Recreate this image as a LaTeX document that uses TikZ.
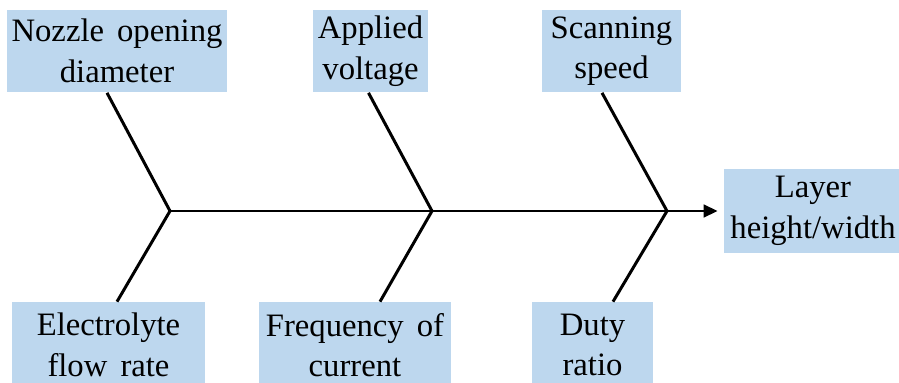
\documentclass[tikz,border=0pt]{standalone}
\usepackage{fontspec}
\setmainfont{Liberation Serif}
\usetikzlibrary{calc,arrows.meta}
\definecolor{boxblue}{HTML}{BDD7EE}
\begin{document}
\begin{tikzpicture}[x=0.02cm,y=-0.02cm]
  \useasboundingbox (0,0) rectangle (899,382);
  \begin{scope}[every node/.style={fill=boxblue,align=center,inner sep=0pt,minimum height=1.66cm,font=\fontsize{18.6}{23}\selectfont}]
  \node[minimum width=4.4cm] (nozzle) at (117,51) {Nozzle\hspace{0.4em}opening\\diameter};
  \node[minimum width=2.3cm] (voltage) at (370.5,51) {Applied\\voltage};
  \node[minimum width=2.78cm] (speed) at (611.5,51) {Scanning\\speed};
  \node[minimum width=3.56cm,minimum height=1.7cm] (layer) at (813,211) {Layer\\height/width};
  \node[minimum width=3.86cm,minimum height=1.72cm] (flow) at (108.5,345) {Electrolyte\\flow\hspace{0.4em}rate};
  \node[minimum width=3.84cm,minimum height=1.72cm] (freq) at (355,345) {Frequency\hspace{0.4em}of\\current};
  \node[minimum width=2.42cm,minimum height=1.72cm] (duty) at (592.5,345) {Duty\\ratio};
  \end{scope}
  \coordinate (j1) at (170,211);
  \coordinate (j2) at (432,211);
  \coordinate (j3) at (667,211);
  \begin{scope}[every edge/.style={draw=black,line width=1.7pt}]
  \path (j1) edge[-{Triangle[length=0.28cm,width=0.25cm]},shorten >=0.12cm] (layer.west);
  \path (j1) edge ($(nozzle.south)+(-10,0)$);
  \path (j2) edge ($(voltage.south)+(-2,0)$);
  \path (j3) edge ($(speed.south)+(-9.5,0)$);
  \path (j1) edge ($(flow.north)+(8.5,0)$);
  \path (j2) edge ($(freq.north)+(25,0)$);
  \path (j3) edge ($(duty.north)+(20.5,0)$);
  \end{scope}
\end{tikzpicture}
\end{document}
